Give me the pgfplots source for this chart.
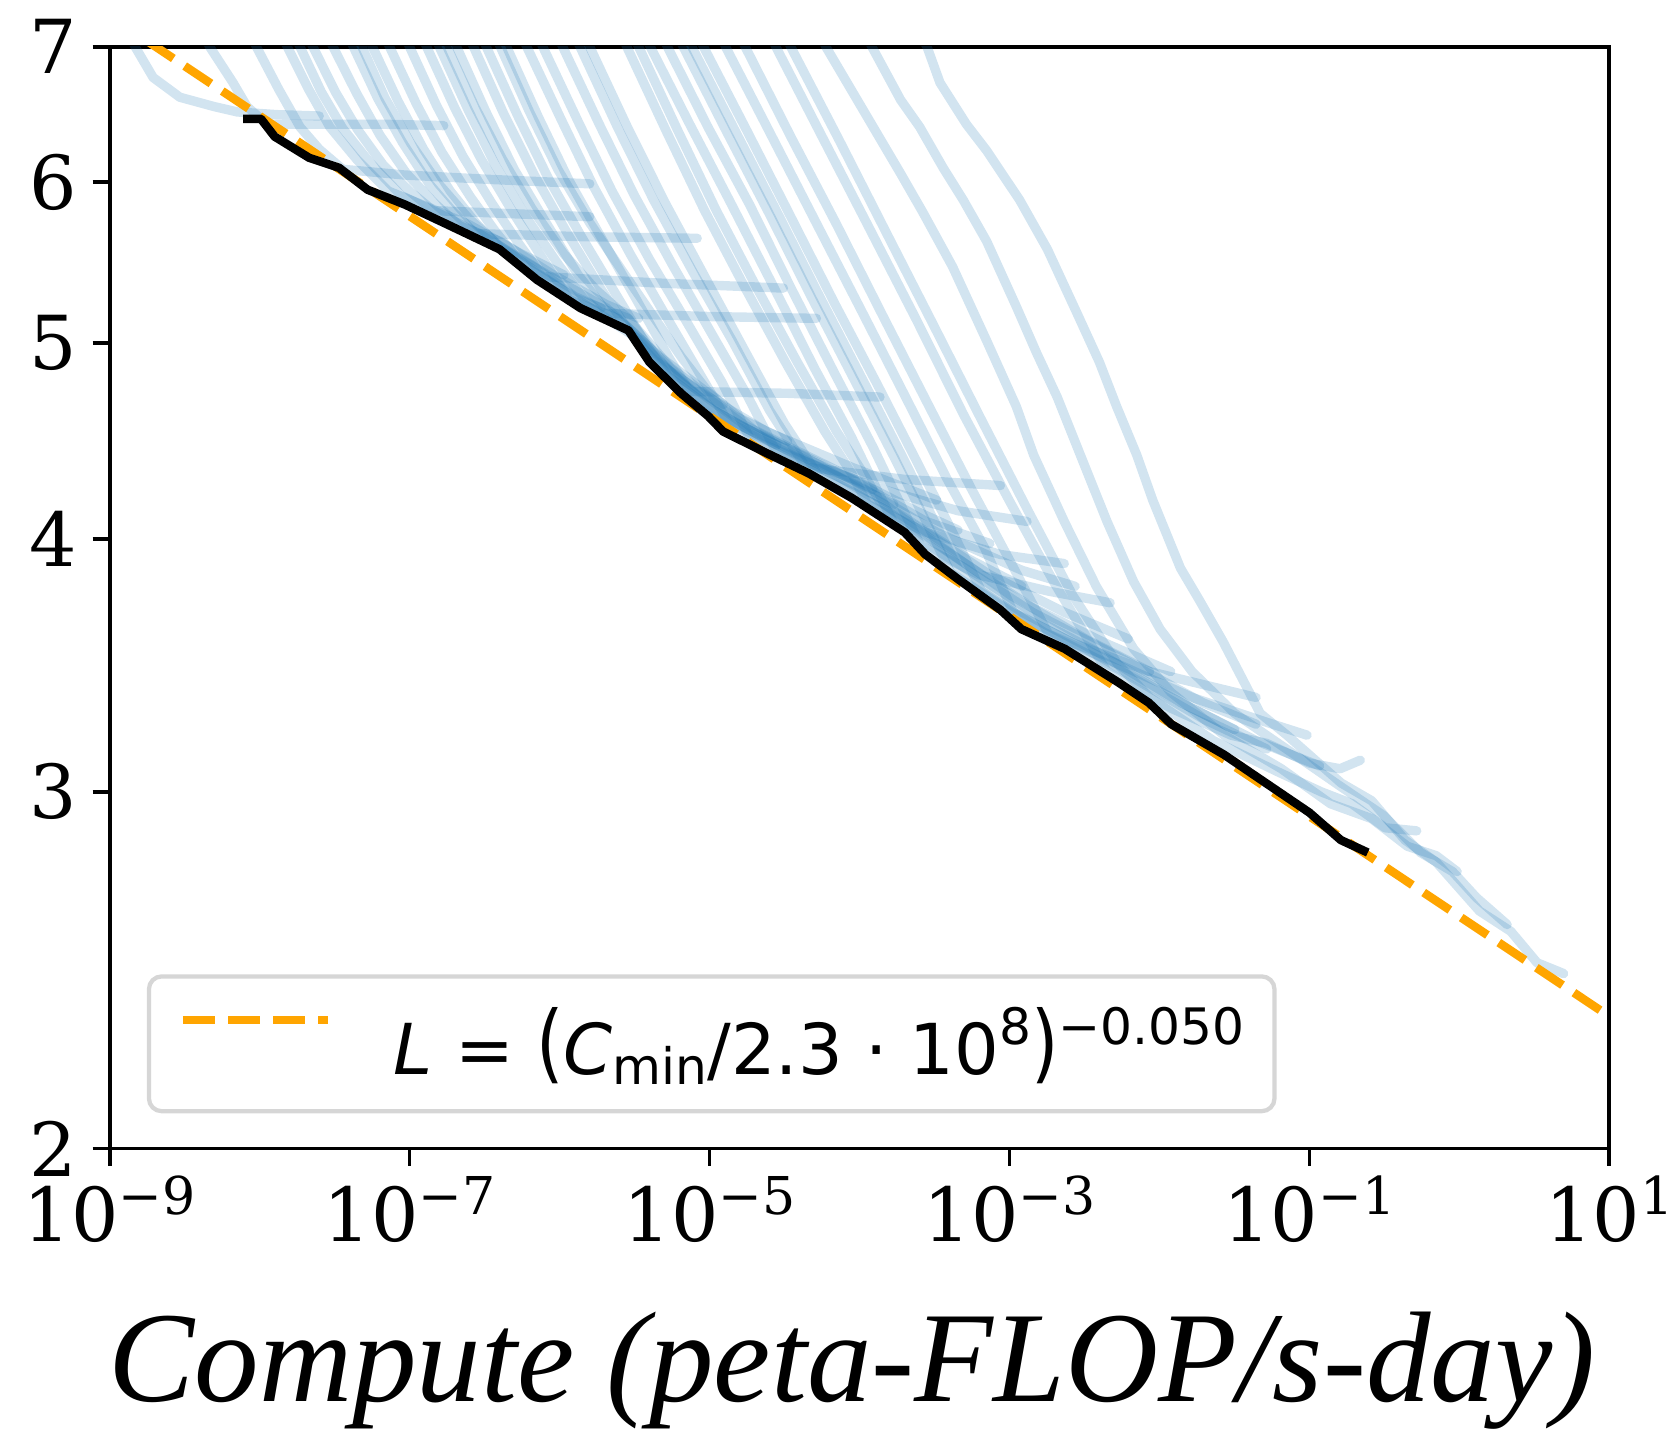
\documentclass[border=0pt]{standalone}
\usepackage{fontspec}
\setmainfont{DejaVu Serif}
\newfontfamily\labelfont{Liberation Serif}
\newfontfamily\legendfont{DejaVu Sans}
\usepackage{graphicx}
\usepackage{pgfplots}
\pgfplotsset{compat=1.18}
\usetikzlibrary{calc}
\definecolor{tabblue}{HTML}{1F77B4}
\definecolor{fitorange}{HTML}{FFA500}
\definecolor{legedge}{HTML}{D6D6D6}
\newcommand{\expo}[1]{10\raisebox{6.3bp}{\fontsize{12.25bp}{12.25bp}\selectfont #1}}
\newcommand{\sm}[1]{{\fontsize{11.8bp}{11.8bp}\selectfont #1}}

\begin{document}
\begin{tikzpicture}
\begin{axis}[
  scale only axis, width=352.25bp, height=258.75bp,
  xmode=log, ymode=log,
  xmin=1e-9, xmax=10, ymin=2, ymax=7,
  xtick={1e-9,1e-7,1e-5,1e-3,1e-1,10},
  xticklabels={\expo{−9},\expo{−7},\expo{−5},\expo{−3},\expo{−1},\expo{1}},
  ytick={2,3,4,5,6,7}, yticklabels={2,3,4,5,6,7},
  xminorticks=false, yminorticks=false,
  tick align=outside, xtick pos=bottom, ytick pos=left,
  major tick length=4bp,
  every tick/.style={black, line width=0.9bp},
  axis line style={line width=0.9bp},
  tick label style={font=\fontsize{17.5bp}{17.5bp}\selectfont, inner sep=0pt},
  xticklabel style={anchor=base, yshift=-17.9bp},
  yticklabel style={anchor=east, xshift=-3.5bp},
  xlabel={Compute (peta-FLOP/s-day)},
  xlabel style={font=\labelfont\itshape\fontsize{30.3bp}{30.3bp}\selectfont,
    at={(axis description cs:0.495,0)}, anchor=base, yshift=-59.5bp, inner sep=0pt},
  legend style={at={(axis description cs:0.0248,0.0319)}, anchor=south west,
    draw=legedge, line width=1bp, rounded corners=3bp, fill=white,
    inner xsep=7bp, inner ysep=7.2bp,
    font=\legendfont\fontsize{16.5bp}{16.5bp}\selectfont,
    nodes={inner sep=0pt},
    /tikz/every odd column/.append style={column sep=14.5bp}},
  legend cell align=left,
  legend image code/.code={\draw[#1] (0bp,5.6bp) -- (34bp,5.6bp);},
  curve/.style={tabblue, opacity=0.2, line width=2.2bp, line join=round, line cap=round, forget plot},
]

% learning curves, smallest to largest model
\addplot[curve] coordinates {(1.28e-9,7.16)(1.48e-9,7.00)(1.95e-9,6.76)(2.94e-9,6.61)(4.97e-9,6.54)(7.11e-9,6.50)(1.30e-8,6.48)(2.50e-8,6.47)};
\addplot[curve] coordinates {(4.01e-9,7.16)(4.65e-9,7.00)(6.65e-9,6.72)(8.24e-9,6.54)(1.12e-8,6.41)(2.50e-8,6.41)(6.67e-8,6.41)(1.69e-7,6.40)};
\addplot[curve] coordinates {(8.24e-9,7.16)(9.53e-9,7.00)(1.34e-8,6.67)(1.86e-8,6.39)(2.50e-8,6.23)(3.58e-8,6.09)(9.25e-8,6.05)(3.42e-7,6.02)(1.59e-6,5.99)};
\addplot[curve] coordinates {(1.32e-8,7.16)(1.53e-8,7.00)(2.12e-8,6.67)(2.94e-8,6.39)(4.43e-8,6.16)(7.24e-8,5.94)(1.28e-7,5.84)(2.47e-7,5.72)(5.58e-7,5.53)(1.07e-6,5.40)};
\addplot[curve] coordinates {(1.61e-8,7.16)(1.86e-8,7.00)(2.58e-8,6.65)(3.58e-8,6.38)(5.40e-8,6.14)(8.81e-8,5.91)(1.51e-7,5.80)(2.90e-7,5.66)(6.58e-7,5.46)(1.26e-6,5.27)(1.90e-6,5.20)};
\addplot[curve] coordinates {(1.96e-8,7.16)(2.27e-8,7.00)(3.20e-8,6.65)(4.51e-8,6.37)(6.67e-8,6.12)(1.00e-7,5.94)(1.44e-7,5.81)(4.74e-7,5.79)(1.59e-6,5.77)};
\addplot[curve] coordinates {(2.67e-8,7.16)(3.09e-8,7.00)(4.43e-8,6.64)(6.35e-8,6.33)(9.55e-8,6.06)(1.46e-7,5.86)(2.16e-7,5.71)(4.03e-7,5.61)(9.12e-7,5.40)(2.06e-6,5.22)(3.37e-6,5.14)};
\addplot[curve] coordinates {(3.64e-8,7.16)(4.22e-8,7.00)(6.14e-8,6.60)(8.95e-8,6.28)(1.35e-7,5.99)(1.96e-7,5.80)(2.76e-7,5.66)(1.49e-6,5.64)(8.28e-6,5.63)};
\addplot[curve] coordinates {(4.15e-8,7.16)(4.81e-8,7.00)(6.89e-8,6.60)(1.02e-7,6.27)(1.56e-7,5.99)(2.47e-7,5.76)(3.89e-7,5.59)(7.74e-7,5.39)(1.75e-6,5.18)(3.37e-6,5.02)(6.47e-6,4.78)(1.47e-5,4.55)(2.82e-5,4.45)};
\addplot[curve] coordinates {(4.89e-8,7.16)(5.66e-8,7.00)(8.38e-8,6.58)(1.24e-7,6.23)(1.87e-7,5.94)(2.76e-7,5.73)(4.03e-7,5.57)(9.12e-7,5.38)(2.06e-6,5.20)(4.67e-6,4.92)(1.24e-5,4.66)};
\addplot[curve] coordinates {(6.35e-8,7.16)(7.36e-8,7.00)(1.11e-7,6.56)(1.64e-7,6.21)(2.55e-7,5.90)(3.83e-7,5.66)(5.58e-7,5.47)(1.26e-6,5.26)(2.86e-6,5.14)(5.50e-6,4.86)(1.47e-5,4.60)(3.32e-5,4.47)};
\addplot[curve] coordinates {(8.67e-8,7.16)(1.00e-7,7.00)(1.51e-7,6.55)(2.27e-7,6.18)(3.53e-7,5.86)(5.40e-7,5.59)(7.74e-7,5.39)(4.67e-6,5.35)(3.11e-5,5.32)};
\addplot[curve] coordinates {(1.12e-7,7.16)(1.30e-7,7.00)(2.00e-7,6.53)(3.00e-7,6.16)(4.74e-7,5.82)(7.48e-7,5.52)(1.16e-6,5.25)(2.43e-6,5.14)(4.67e-6,4.89)(1.24e-5,4.59)(3.91e-5,4.41)(1.23e-4,4.23)};
\addplot[curve] coordinates {(1.37e-7,7.16)(1.58e-7,7.00)(2.47e-7,6.51)(3.77e-7,6.11)(6.05e-7,5.76)(9.89e-7,5.46)(1.44e-6,5.26)(1.90e-6,5.17)(1.06e-5,5.15)(5.16e-5,5.14)};
\addplot[curve] coordinates {(1.53e-7,7.16)(1.78e-7,7.00)(2.72e-7,6.54)(4.16e-7,6.16)(6.58e-7,5.82)(1.07e-6,5.53)(1.75e-6,5.31)(2.86e-6,5.14)(5.07e-6,4.86)(1.06e-5,4.63)(2.39e-5,4.48)(6.38e-5,4.31)(1.70e-4,4.16)};
\addplot[curve] coordinates {(1.78e-7,7.16)(2.06e-7,7.00)(3.20e-7,6.51)(4.98e-7,6.09)(8.13e-7,5.73)(1.33e-6,5.40)(2.06e-6,5.18)(2.86e-6,5.09)(6.47e-6,4.80)(1.73e-5,4.55)(6.38e-5,4.34)(2.36e-4,4.13)(4.54e-4,4.04)};
\addplot[curve] coordinates {(2.31e-7,7.16)(2.67e-7,7.00)(4.23e-7,6.49)(6.79e-7,6.05)(1.13e-6,5.66)(1.90e-6,5.31)(3.10e-6,5.03)(4.31e-6,4.90)(8.97e-6,4.72)(2.39e-5,4.52)(8.85e-5,4.34)(3.27e-4,4.18)};
\addplot[curve] coordinates {(2.81e-7,7.16)(3.25e-7,7.00)(5.22e-7,6.48)(8.39e-7,6.03)(1.42e-6,5.63)(2.35e-6,5.29)(3.84e-6,4.98)(5.32e-6,4.81)(1.06e-5,4.63)(2.82e-5,4.45)(8.85e-5,4.28)(2.78e-4,4.08)(7.40e-4,3.98)};
\addplot[curve] coordinates {(3.48e-7,7.16)(4.03e-7,7.00)(6.25e-7,6.51)(9.73e-7,6.09)(1.59e-6,5.73)(2.64e-6,5.42)(4.31e-6,5.14)(6.47e-6,4.92)(9.75e-6,4.73)(2.03e-5,4.52)(5.42e-5,4.35)(1.70e-4,4.13)(5.33e-4,3.91)(1.21e-3,3.79)};
\addplot[curve] coordinates {(3.83e-7,7.16)(4.44e-7,7.00)(7.24e-7,6.46)(1.16e-6,6.01)(1.96e-6,5.61)(3.26e-6,5.25)(5.32e-6,4.92)(7.38e-6,4.73)(3.32e-5,4.72)(1.37e-4,4.70)};
\addplot[curve] coordinates {(5.22e-7,7.16)(6.05e-7,7.00)(1.02e-6,6.45)(1.69e-6,5.97)(2.96e-6,5.53)(5.07e-6,5.16)(8.55e-6,4.83)(1.35e-5,4.56)(3.32e-5,4.41)(1.04e-4,4.24)(3.27e-4,4.03)(1.21e-3,3.86)(2.74e-3,3.79)};
\addplot[curve] coordinates {(6.68e-7,7.16)(7.74e-7,7.00)(1.33e-6,6.43)(2.24e-6,5.94)(3.96e-6,5.50)(7.03e-6,5.12)(1.21e-5,4.78)(1.87e-5,4.48)(4.60e-5,4.36)(1.45e-4,4.23)(4.54e-4,4.13)(1.31e-3,4.08)};
\addplot[curve] coordinates {(9.12e-7,7.16)(1.05e-6,7.00)(1.84e-6,6.41)(3.16e-6,5.91)(5.68e-6,5.46)(1.02e-5,5.06)(1.78e-5,4.71)(2.82e-5,4.41)(7.52e-5,4.25)(2.36e-4,4.06)(7.40e-4,3.84)(2.32e-3,3.68)(6.19e-3,3.57)};
\addplot[curve] coordinates {(1.18e-6,7.16)(1.37e-6,7.00)(2.43e-6,6.39)(4.24e-6,5.88)(7.74e-6,5.42)(1.42e-5,5.01)(2.51e-5,4.63)(4.39e-5,4.34)(2.00e-4,4.28)(8.71e-4,4.25)};
\addplot[curve] coordinates {(1.37e-6,7.16)(1.59e-6,7.00)(2.86e-6,6.38)(5.07e-6,5.86)(9.42e-6,5.38)(1.73e-5,4.95)(3.16e-5,4.56)(5.42e-5,4.29)(1.45e-4,4.14)(4.54e-4,3.91)(1.42e-3,3.70)(4.47e-3,3.55)(1.19e-2,3.44)};
\addplot[curve] coordinates {(2.43e-6,7.16)(2.81e-6,7.00)(5.15e-6,6.36)(9.27e-6,5.81)(1.73e-5,5.32)(3.21e-5,4.89)(5.87e-5,4.52)(8.85e-5,4.31)(1.13e-4,4.16)(2.78e-4,4.03)(8.71e-4,3.93)(2.32e-3,3.89)};
\addplot[curve] coordinates {(2.90e-6,7.16)(3.37e-6,7.00)(6.17e-6,6.36)(1.11e-5,5.81)(2.07e-5,5.32)(3.85e-5,4.89)(7.03e-5,4.52)(1.06e-4,4.31)(1.35e-4,4.18)(3.27e-4,3.98)(1.03e-3,3.75)(3.22e-3,3.57)(8.59e-3,3.44)};
\addplot[curve] coordinates {(3.48e-6,7.16)(4.03e-6,7.00)(7.38e-6,6.41)(1.37e-5,5.87)(2.60e-5,5.35)(4.99e-5,4.86)(8.85e-5,4.49)(1.33e-4,4.22)(1.70e-4,4.07)(4.54e-4,3.89)(1.42e-3,3.68)(5.26e-3,3.50)(1.95e-2,3.32)(4.41e-2,3.24)};
\addplot[curve] coordinates {(4.52e-6,7.16)(5.24e-6,7.00)(9.75e-6,6.39)(1.85e-5,5.85)(3.54e-5,5.31)(6.81e-5,4.83)(1.23e-4,4.44)(1.94e-4,4.14)(2.56e-4,3.97)(6.28e-4,3.84)(1.82e-3,3.77)(4.69e-3,3.72)};
\addplot[curve] coordinates {(5.77e-6,7.16)(6.68e-6,7.00)(1.28e-5,6.37)(2.47e-5,5.80)(4.75e-5,5.27)(9.14e-5,4.80)(1.70e-4,4.39)(2.78e-4,4.08)(4.05e-4,3.85)(1.03e-3,3.68)(3.22e-3,3.53)(1.19e-2,3.34)(4.41e-2,3.18)(1.17e-1,3.09)};
\addplot[curve] coordinates {(6.58e-6,7.16)(7.62e-6,7.00)(1.47e-5,6.37)(2.82e-5,5.80)(5.42e-5,5.27)(1.04e-4,4.80)(1.94e-4,4.39)(3.16e-4,4.08)(4.61e-4,3.86)(1.21e-3,3.68)(3.79e-3,3.52)(1.40e-2,3.32)(3.18e-2,3.22)};
\addplot[curve] coordinates {(7.87e-6,7.16)(9.12e-6,7.00)(1.78e-5,6.36)(3.48e-5,5.77)(6.81e-5,5.23)(1.31e-4,4.77)(2.44e-4,4.36)(4.18e-4,4.03)(6.50e-4,3.77)(1.67e-3,3.60)(5.26e-3,3.45)(1.95e-2,3.26)(5.19e-2,3.15)};
\addplot[curve] coordinates {(1.11e-5,7.16)(1.28e-5,7.00)(2.55e-5,6.34)(5.08e-5,5.74)(1.01e-4,5.20)(2.00e-4,4.71)(3.85e-4,4.28)(6.82e-4,3.96)(1.06e-3,3.68)(2.74e-3,3.55)(8.59e-3,3.44)(4.41e-2,3.34)};
\addplot[curve] coordinates {(1.49e-5,7.16)(1.73e-5,7.00)(3.48e-5,6.32)(7.03e-5,5.72)(1.42e-4,5.16)(2.87e-4,4.66)(5.52e-4,4.24)(1.03e-3,3.89)(1.82e-3,3.59)(5.26e-3,3.47)(1.65e-2,3.34)(5.0e-2,3.25)(9.64e-2,3.20)};
\addplot[curve] coordinates {(2.39e-5,7.16)(2.77e-5,7.00)(5.69e-5,6.31)(1.17e-4,5.69)(2.40e-4,5.13)(4.92e-4,4.61)(9.93e-4,4.18)(1.97e-3,3.81)(4.47e-3,3.44)(1.19e-2,3.30)(3.0e-2,3.20)(5.19e-2,3.17)(1.0e-1,3.10)(1.6e-1,3.08)(2.18e-1,3.11)};
\addplot[curve] coordinates {(3.01e-5,7.16)(3.48e-5,7.00)(7.28e-5,6.30)(1.52e-4,5.66)(3.16e-4,5.09)(6.50e-4,4.58)(1.33e-3,4.13)(2.65e-3,3.75)(5.26e-3,3.47)(8.59e-3,3.34)(2.29e-2,3.18)(6.11e-2,3.07)(1.2e-1,3.00)(1.92e-1,2.96)(3.2e-1,2.88)(5.19e-1,2.87)};
\addplot[curve] coordinates {(5.16e-5,7.16)(5.97e-5,7.00)(1.88e-4,6.06)(2.64e-4,5.80)(4.18e-4,5.45)(7.05e-4,5.01)(1.11e-3,4.65)(1.45e-3,4.40)(2.32e-3,4.08)(3.79e-3,3.79)(6.73e-3,3.53)(1.19e-2,3.36)(2.70e-2,3.20)(6.5e-2,3.08)(1.38e-1,2.96)(2.6e-1,2.91)(4.5e-1,2.82)(7.0e-1,2.79)(9.66e-1,2.74)};
\addplot[curve] coordinates {(1.04e-4,7.16)(1.21e-4,7.00)(1.88e-4,6.59)(2.52e-4,6.39)(3.61e-4,6.10)(4.92e-4,5.88)(7.05e-4,5.61)(1.11e-3,5.21)(1.52e-3,4.94)(2.08e-3,4.70)(2.97e-3,4.40)(4.47e-3,4.08)(6.73e-3,3.81)(1.01e-2,3.61)(1.65e-2,3.44)(3.18e-2,3.28)(8.47e-2,3.12)(1.6e-1,3.02)(3.13e-1,2.92)(5.5e-1,2.80)(9.0e-1,2.74)(1.3,2.66)(2.08,2.58)};
\addplot[curve] coordinates {(2.36e-4,7.16)(2.82e-4,7.00)(3.44e-4,6.72)(5.16e-4,6.41)(7.05e-4,6.22)(1.17e-3,5.88)(1.79e-3,5.56)(2.82e-3,5.17)(3.98e-3,4.89)(5.18e-3,4.65)(7.06e-3,4.40)(9.02e-3,4.18)(1.38e-2,3.87)(1.85e-2,3.73)(2.65e-2,3.56)(3.44e-2,3.43)(4.70e-2,3.28)(7.08e-2,3.20)(1.63e-1,3.03)(2.6e-1,2.97)(4.34e-1,2.84)(7.0e-1,2.77)(1.36,2.62)(2.2,2.56)(3.3,2.47)(4.95,2.44)};

% power-law fit
\addplot[fitorange, line width=2bp, dash pattern=on 7.4bp off 3.2bp] coordinates {(1e-9,7.25)(10,2.324)};
\addlegendentry{\rule[-3.55bp]{0pt}{3.55bp}\textit{L} = \raisebox{0.03em}{\scalebox{1}[1.22]{(}}\textit{C}\raisebox{-0.14em}{\sm{min}}/2.3 · 10\raisebox{0.42em}{\sm{8}}\raisebox{0.03em}{\scalebox{1}[1.22]{)}}\raisebox{0.42em}{\sm{−0.050}}\hspace{5bp}}

% compute-efficient frontier
\addplot[black, line width=2bp, line join=round, forget plot] coordinates {
  (7.76e-9,6.45)(1.02e-8,6.45)(1.26e-8,6.32)(2.14e-8,6.17)(3.39e-8,6.10)(5.25e-8,5.95)
  (9.33e-8,5.85)(1.78e-7,5.72)(3.98e-7,5.56)(7.08e-7,5.37)(1.38e-6,5.20)(2.88e-6,5.07)
  (3.98e-6,4.89)(6.46e-6,4.72)(9.77e-6,4.60)(1.23e-5,4.52)(2.40e-5,4.41)(4.57e-5,4.31)
  (8.91e-5,4.19)(2.00e-4,4.03)(2.75e-4,3.93)(4.57e-4,3.82)(8.71e-4,3.69)(1.20e-3,3.61)
  (2.34e-3,3.53)(5.25e-3,3.40)(8.51e-3,3.32)(1.20e-2,3.24)(2.69e-2,3.13)(5.13e-2,3.03)
  (1.00e-1,2.93)(1.62e-1,2.84)(2.45e-1,2.80)};
\end{axis}
\pgfresetboundingbox
\path[use as bounding box] ($(current axis.south west)+(-25.75bp,-66.25bp)$) rectangle ++(392bp,336bp);
\end{tikzpicture}
\end{document}
